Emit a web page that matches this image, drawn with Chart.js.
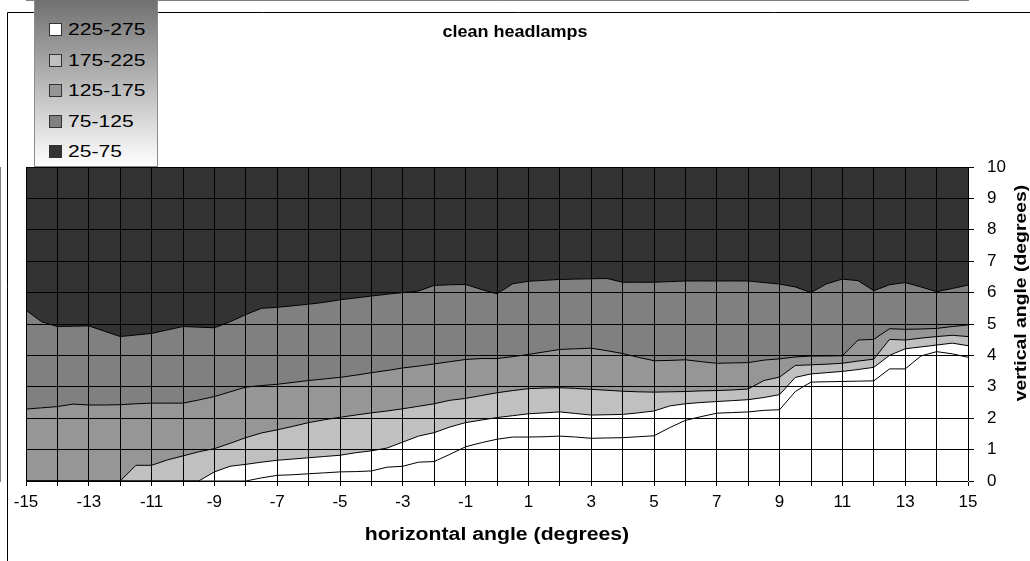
<!DOCTYPE html>
<html>
<head>
<meta charset="utf-8">
<script src="https://cdn.jsdelivr.net/npm/chart.js@4/dist/chart.umd.min.js"></script>
<style>
  body { margin: 0; background: #fff; }
  #wrap { position: relative; width: 1030px; height: 561px; overflow: hidden; font-family: "Liberation Sans", Arial, sans-serif; }
  #chart { position: absolute; left: 0; top: 0; }
  #legend { position: absolute; left: 34px; top: 0; width: 122px; height: 166px;
            background: linear-gradient(#707070, #ffffff); border-left: 1px solid #8c8c8c;
            border-right: 1px solid #8c8c8c; border-bottom: 1px solid #8c8c8c; }
  .item { position: absolute; left: 14px; height: 20px; font-size: 17px; line-height: 20px; color: #000; white-space: nowrap; }
  .sw { position: absolute; left: 0; top: 3px; width: 11px; height: 11px; border: 1px solid #333; }
  .tx { position: absolute; left: 19px; top: 0; transform: scaleX(1.24); transform-origin: 0 50%; }
</style>
</head>
<body>
<div id="wrap">
  <canvas id="chart" width="1030" height="561"></canvas>
  <div id="legend"></div>
</div>
<script>
// horizontal angle samples (degrees)
const angles = [-15, -14.5, -14, -13.5, -13, -12.5, -12, -11.5, -11, -10.5, -10, -9.5, -9, -8.5, -8, -7.5, -7, -6.5, -6, -5.5,
  -5, -4.5, -4, -3.5, -3, -2.5, -2, -1.5, -1, -0.5, 0, 0.5, 1, 1.5, 2, 2.5, 3, 3.5, 4, 4.5,
  5, 5.5, 6, 6.5, 7, 7.5, 8, 8.5, 9, 9.5, 10, 10.5, 11, 11.5, 12, 12.5, 13, 13.5, 14, 14.5, 15];

// vertical angle of each contour boundary
const line75 = [5.44, 5.07, 4.92, 4.93, 4.94, 4.77, 4.6, 4.65, 4.7, 4.81, 4.92, 4.9, 4.88, 5.07, 5.3, 5.5, 5.53, 5.58, 5.63, 5.69,
  5.77, 5.83, 5.89, 5.95, 6.0, 6.05, 6.23, 6.25, 6.26, 6.1, 5.96, 6.28, 6.36, 6.39, 6.42, 6.43, 6.44, 6.45, 6.33, 6.33,
  6.33, 6.35, 6.37, 6.37, 6.37, 6.37, 6.37, 6.32, 6.27, 6.18, 6.0, 6.28, 6.43, 6.38, 6.06, 6.25, 6.32, 6.18, 6.03, 6.13, 6.24];
const line125 = [2.29, 2.33, 2.37, 2.45, 2.42, 2.42, 2.43, 2.46, 2.48, 2.48, 2.48, 2.58, 2.69, 2.84, 2.99, 3.04, 3.08, 3.14, 3.2, 3.25,
  3.3, 3.37, 3.45, 3.52, 3.6, 3.66, 3.73, 3.8, 3.87, 3.9, 3.9, 3.96, 4.03, 4.11, 4.19, 4.21, 4.23, 4.15, 4.06, 3.94,
  3.83, 3.84, 3.86, 3.8, 3.75, 3.76, 3.77, 3.85, 3.89, 3.95, 3.98, 3.98, 3.99, 4.49, 4.51, 4.85, 4.83, 4.84, 4.86, 4.92, 4.97];
const line175 = [0, 0, 0, 0, 0, 0, 0, 0.5, 0.5, 0.67, 0.8, 0.93, 1.03, 1.2, 1.38, 1.53, 1.63, 1.74, 1.86, 1.95,
  2.03, 2.1, 2.17, 2.23, 2.3, 2.38, 2.46, 2.57, 2.63, 2.72, 2.81, 2.88, 2.94, 2.96, 2.97, 2.95, 2.92, 2.89, 2.86, 2.84,
  2.83, 2.84, 2.85, 2.87, 2.88, 2.9, 2.93, 3.2, 3.31, 3.68, 3.7, 3.72, 3.75, 3.82, 3.88, 4.51, 4.49, 4.55, 4.6, 4.64, 4.6];
const line225 = [0, 0, 0, 0, 0, 0, 0, 0, 0, 0, 0, 0, 0.29, 0.47, 0.53, 0.6, 0.66, 0.7, 0.74, 0.78,
  0.82, 0.9, 0.96, 1.05, 1.24, 1.43, 1.54, 1.72, 1.86, 1.94, 2.02, 2.08, 2.14, 2.17, 2.2, 2.15, 2.1, 2.11, 2.12, 2.17,
  2.23, 2.39, 2.46, 2.5, 2.53, 2.56, 2.59, 2.66, 2.75, 3.3, 3.41, 3.45, 3.49, 3.55, 3.62, 4.0, 4.21, 4.27, 4.33, 4.39, 4.31];
const line275 = [0, 0, 0, 0, 0, 0, 0, 0, 0, 0, 0, 0, 0, 0, 0, 0.1, 0.18, 0.2, 0.23, 0.26,
  0.29, 0.3, 0.32, 0.44, 0.47, 0.6, 0.62, 0.85, 1.09, 1.22, 1.33, 1.4, 1.4, 1.41, 1.43, 1.4, 1.36, 1.37, 1.38, 1.41,
  1.44, 1.7, 1.93, 2.05, 2.16, 2.18, 2.2, 2.25, 2.27, 2.85, 3.15, 3.16, 3.17, 3.18, 3.19, 3.57, 3.57, 3.98, 4.12, 4.05, 3.94];
const vMax = 10;

const bandLabels = ["225-275", "175-225", "125-175", "75-125", "25-75"];
const bandColors = ["#ffffff", "#c0c0c0", "#969696", "#808080", "#333333"];

const pts = (vals) => angles.map((a, i) => ({ x: a, y: vals[i] }));
const top10 = angles.map((a) => ({ x: a, y: vMax }));

// legend
const legend = document.getElementById("legend");
bandLabels.forEach((lab, i) => {
  const d = document.createElement("div");
  d.className = "item";
  d.style.top = (20 + i * 30.5) + "px";
  d.innerHTML = '<div class="sw" style="background:' + bandColors[i] + '"></div><span class="tx">' + lab + "</span>";
  legend.appendChild(d);
});

// stretched text like the original export
const drawText = (ctx, text, x, y, font, sx, rot) => {
  ctx.save();
  ctx.translate(x, y);
  if (rot) ctx.rotate(rot);
  ctx.scale(sx, 1);
  ctx.font = font;
  ctx.fillStyle = "#000";
  ctx.textAlign = "center";
  ctx.textBaseline = "alphabetic";
  ctx.fillText(text, 0, 0);
  ctx.restore();
};

// outer chart frame + titles
const extras = {
  id: "extras",
  beforeDraw(chart) {
    const ctx = chart.ctx;
    ctx.save();
    ctx.strokeStyle = "#000";
    ctx.lineWidth = 1;
    ctx.beginPath();
    ctx.moveTo(7.5, chart.height);
    ctx.lineTo(7.5, 12.5);
    ctx.lineTo(chart.width, 12.5);
    ctx.stroke();
    ctx.restore();
  },
  afterDraw(chart) {
    const ctx = chart.ctx;
    const a = chart.chartArea;
    const bold = "bold 17px 'Liberation Sans', Arial";
    drawText(ctx, "clean headlamps", 515, 37, bold, 1.06);
    drawText(ctx, "horizontal angle (degrees)", (a.left + a.right) / 2, 540, "bold 18px 'Liberation Sans', Arial", 1.18);
    drawText(ctx, "vertical angle (degrees)", 1025.5, 293, bold, 1.14, -Math.PI / 2);
  },
};

Chart.defaults.font.family = "'Liberation Sans', Arial, sans-serif";
Chart.defaults.color = "#000";

const lineDs = (label, data, color, border) => ({
  label, data, backgroundColor: color, borderColor: "#000", borderWidth: border,
  pointRadius: 0, tension: 0, fill: "origin",
});

new Chart(document.getElementById("chart"), {
  type: "line",
  data: {
    datasets: [
      lineDs(">275", pts(line275), "#ffffff", 1),
      lineDs(bandLabels[0], pts(line225), bandColors[0], 1),
      lineDs(bandLabels[1], pts(line175), bandColors[1], 1),
      lineDs(bandLabels[2], pts(line125), bandColors[2], 1),
      lineDs(bandLabels[3], pts(line75), bandColors[3], 1),
      lineDs(bandLabels[4], top10, bandColors[4], 1),
    ],
  },
  options: {
    responsive: false,
    animation: false,
    layout: { padding: { left: 26, top: 167, right: 0, bottom: 0 } },
    plugins: {
      legend: { display: false },
      tooltip: { enabled: false },
      title: { display: false },
    },
    scales: {
      x: {
        type: "linear",
        min: -15,
        max: 15,
        afterFit: (s) => { s.height = 80; },
        ticks: {
          stepSize: 1,
          autoSkip: false,
          maxRotation: 0,
          padding: 6,
          font: { size: 17 },
          callback: (v) => (Math.abs(v) % 2 === 1 ? v : ""),
        },
        grid: { color: "#000", lineWidth: 1, tickLength: 5, z: 1 },
        border: { color: "#000" },
      },
      y: {
        position: "right",
        min: 0,
        max: vMax,
        afterFit: (s) => { s.width = 62; },
        ticks: { stepSize: 1, padding: 13, font: { size: 17 } },
        grid: { color: "#000", lineWidth: 1, tickLength: 6, z: 1 },
        border: { color: "#000" },
      },
    },
  },
  plugins: [extras],
});
</script>
</body>
</html>
